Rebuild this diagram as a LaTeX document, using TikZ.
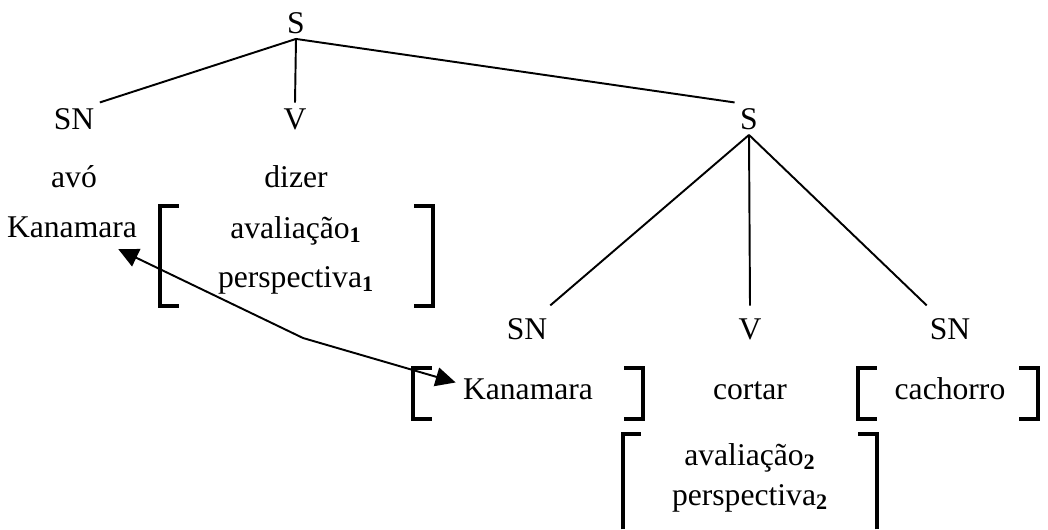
\documentclass[tikz,border=0pt]{standalone}
\usepackage{fontspec}
\setmainfont{Liberation Serif}
\usepackage{tikz}
\usetikzlibrary{arrows.meta}
\tikzset{
	word/.style={
			font=\fontsize{18}{22}\selectfont, anchor=base, inner sep=3.5pt, text centered},
	cat/.style={
			word, inner sep=3pt},
	lowcat/.style={
			word, inner xsep=3pt, inner ysep=7pt},
	branch/.style={
			line width=1.1pt},
	bracket/.style={
			line width=2.2pt},
	box/.style={
			draw=none, inner sep=0pt},
		}
\newcommand{\sub}[1]{\textsubscript{\textbf{#1}}}

\begin{document}
\begin{tikzpicture} [x=0.02cm, y=-0.02cm, >={Triangle[length=0.4cm, width=0.38cm]}]

	\useasboundingbox (0,0) rectangle (1048,529);

	% upper clause (y = baseline)
	\node[cat] (s0) at (296,33) {S};
	\node[cat] (sn1) at (74,129) {SN};
	\node[cat] (v1) at (295,129) {V};
	\node[cat] (s1) at (749,129) {S};

	\node[word] (avo) at (74,187) {avó};
	\node[word] (dizer) at (296,187) {dizer};
	\node[word, inner sep=6.5pt] (kan1) at (72,237) {Kanamara};
	\node[word] (aval1) at (296,238) {avaliação\sub{1}};
	\node[word] (persp1) at (296,287) {perspectiva\sub{1}};

	% lower clause
	\node[lowcat] (sn2) at (527,339) {SN};
	\node[lowcat] (v2) at (750,339) {V};
	\node[lowcat] (sn3) at (950,339) {SN};

	\node[word, inner sep=4pt] (kan2) at (528,399) {Kanamara};
	\node[word] (cortar) at (750,399) {cortar};
	\node[word] (cach) at (950,399) {cachorro};
	\node[word] (aval2) at (750,465) {avaliação\sub{2}};
	\node[word] (persp2) at (750,505) {perspectiva\sub{2}};

	% bracket frames
	\node[box, minimum width=5.46cm, minimum height=2cm] (brA) at (296.5,256) {};
	\node[box, minimum width=4.6cm, minimum height=1.02cm] (brB) at (528,393.5) {};
	\node[box, minimum width=3.6cm, minimum height=1.02cm] (brC) at (948,393.5) {};
	\node[box, minimum width=5.08cm, minimum height=1.9cm] (brD) at (750,481.5) {};

	% tree
	\draw[branch] (s0.south) -- (sn1.north east);
	\draw[branch] (s0.south) -- (v1.north);
	\draw[branch] (s0.south) -- (s1.north west);
	\draw[branch] (s1.south) -- (sn2.45);
	\draw[branch] (s1.south) -- (v2.north);
	\draw[branch] (s1.south) -- (sn3.135);

	% brackets
	\foreach \b in {brA, brB, brC} {
		\draw[bracket] ([xshift=0.38cm]\b.north west) -| (\b.south west) -- ++(19,0);
		\draw[bracket] ([xshift=-0.38cm]\b.north east) -| (\b.south east) -- ++(-19,0);
	}
	\draw[bracket] (brD.south west) |- ([xshift=0.36cm]brD.north west);
	\draw[bracket] (brD.south east) |- ([xshift=-0.38cm]brD.north east);

	% coreference
	\coordinate (bend) at (303,338);
	\draw[branch, <->] (kan1) -- (bend) -- (kan2.175);

\end{tikzpicture}
\end{document}
